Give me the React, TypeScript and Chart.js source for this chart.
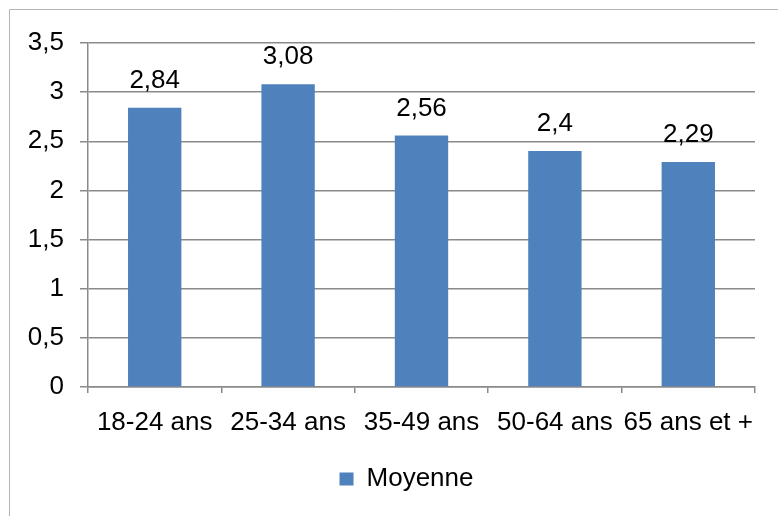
import React, { useEffect, useRef } from 'react';
import { Chart, registerables } from 'chart.js';

Chart.register(...registerables);

const categories = ['18-24 ans', '25-34 ans', '35-49 ans', '50-64 ans', '65 ans et +'];
const moyenne = [2.84, 3.08, 2.56, 2.4, 2.29];
const seriesName = 'Moyenne';
const yMin = 0;
const yMax = 3.5;
const yStep = 0.5;

const FONT = "'Liberation Sans', Arial, sans-serif";
const FS = 26;
const BAR = '#4F81BD';
const GRID = '#8a8a8a';

const fmt = (v: number) => String(Math.round(v * 100) / 100).replace('.', ',');

const frame = {
  id: 'frame',
  beforeDraw(chart: any) {
    const ctx = chart.ctx;
    ctx.save();
    ctx.strokeStyle = '#b4b4b4';
    ctx.lineWidth = 1;
    ctx.beginPath();
    ctx.moveTo(9.5, chart.height);
    ctx.lineTo(9.5, 9.5);
    ctx.lineTo(chart.width, 9.5);
    ctx.stroke();
    ctx.restore();
  },
};

const legendShift = {
  id: 'legendShift',
  afterLayout(chart: any) {
    const lg = chart.legend;
    if (lg) {
      lg.left += 29;
      lg.right += 29;
    }
  },
};

const valueLabels = {
  id: 'valueLabels',
  afterDatasetsDraw(chart: any) {
    const ctx = chart.ctx;
    const meta = chart.getDatasetMeta(0);
    const data = chart.data.datasets[0].data as number[];
    ctx.save();
    ctx.font = `${FS}px ${FONT}`;
    ctx.fillStyle = '#000';
    ctx.textAlign = 'center';
    ctx.textBaseline = 'middle';
    meta.data.forEach((bar: any, i: number) => {
      ctx.fillText(fmt(data[i]), bar.x, bar.y - 27);
    });
    ctx.restore();
  },
};

export default function App() {
  const ref = useRef<HTMLCanvasElement>(null);

  useEffect(() => {
    if (!ref.current) return;
    const chart = new Chart(ref.current, {
      type: 'bar',
      data: {
        labels: categories,
        datasets: [
          {
            label: seriesName,
            data: moyenne,
            backgroundColor: BAR,
            borderWidth: 0,
            barPercentage: 0.4,
            categoryPercentage: 1.0,
          },
        ],
      },
      options: {
        animation: false,
        responsive: true,
        maintainAspectRatio: false,
        layout: { padding: { left: 0, right: 23, top: 43, bottom: 14 } },
        plugins: {
          tooltip: { enabled: false },
          legend: {
            position: 'bottom',
            labels: {
              font: { family: FONT, size: FS },
              color: '#000',
              boxWidth: 14,
              boxHeight: 13,
              padding: 10,
            },
          },
        },
        scales: {
          x: {
            grid: {
              drawOnChartArea: false,
              drawTicks: true,
              tickLength: 6,
              color: GRID,
              lineWidth: 1.5,
            },
            border: { color: GRID, width: 1.5 },
            ticks: {
              font: { family: FONT, size: FS },
              color: '#000',
              padding: 14,
              maxRotation: 0,
              autoSkip: false,
            },
            afterFit(scale: any) {
              scale.height = 69;
            },
          },
          y: {
            min: yMin,
            max: yMax,
            grid: {
              color: GRID,
              lineWidth: 1.5,
              tickLength: 8,
            },
            border: { color: GRID, width: 1.5 },
            ticks: {
              stepSize: yStep,
              font: { family: FONT, size: FS },
              color: '#000',
              padding: 16,
              callback: (v: any) => fmt(Number(v)),
            },
            afterFit(scale: any) {
              scale.width = 88;
            },
          },
        },
      },
      plugins: [frame, legendShift, valueLabels],
    });
    return () => chart.destroy();
  }, []);

  return (
    <div style={{ position: 'fixed', left: 0, top: 0, width: 778, height: 516, background: '#fff' }}>
      <canvas ref={ref} />
    </div>
  );
}
